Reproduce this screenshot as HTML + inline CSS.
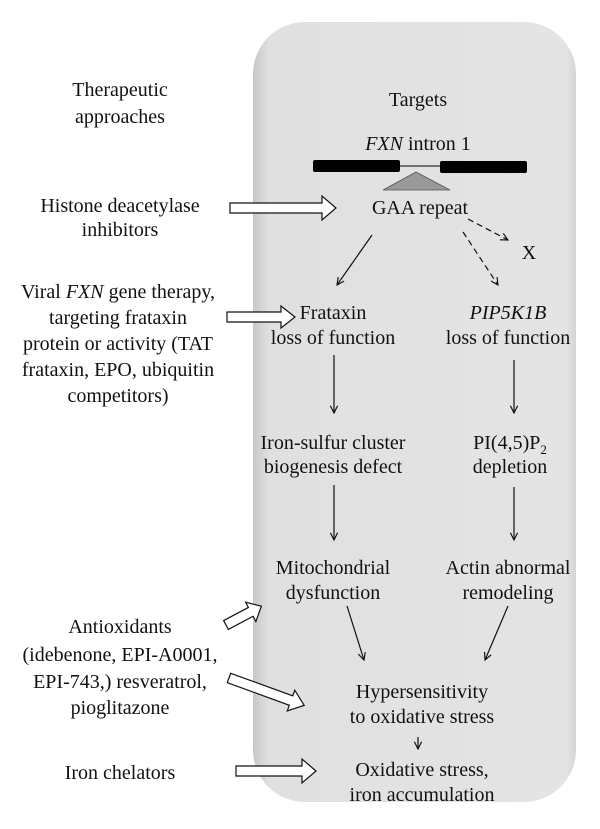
<!DOCTYPE html>
<html><head><meta charset="utf-8"><style>
html,body{margin:0;padding:0;background:#fff;}
svg{display:block;}
text{font-family:"Liberation Serif",serif;font-size:20px;fill:#111;}
</style></head><body>
<svg width="600" height="829" viewBox="0 0 600 829" xmlns="http://www.w3.org/2000/svg">
<defs>
<linearGradient id="g" x1="0" x2="1" y1="0" y2="0">
<stop offset="0" stop-color="#c8c8c8"/><stop offset="0.05" stop-color="#e0e0e0"/><stop offset="0.97" stop-color="#e4e4e4"/><stop offset="1" stop-color="#d4d4d4"/>
</linearGradient>
<marker id="a" viewBox="0 0 10 10" refX="9" refY="5" markerWidth="9" markerHeight="9" orient="auto" markerUnits="userSpaceOnUse">
<path d="M1,1 L9,5 L1,9" fill="none" stroke="#111" stroke-width="1.3"/></marker>
</defs>
<rect x="253" y="22" width="323" height="780" rx="52" fill="url(#g)"/>
<g text-anchor="middle">
<text x="120" y="96">Therapeutic</text>
<text x="120" y="123">approaches</text>
<text x="418" y="106">Targets</text>
<text x="418" y="150"><tspan font-style="italic">FXN</tspan> intron 1</text>
<text x="420" y="214">GAA repeat</text>
<text x="529" y="259">X</text>
<text x="120" y="212">Histone deacetylase</text>
<text x="120" y="236">inhibitors</text>
<text x="118" y="298">Viral <tspan font-style="italic">FXN</tspan> gene therapy,</text>
<text x="118" y="324">targeting frataxin</text>
<text x="118" y="350">protein or activity (TAT</text>
<text x="118" y="376">frataxin, EPO, ubiquitin</text>
<text x="118" y="402">competitors)</text>
<text x="333" y="319">Frataxin</text>
<text x="333" y="344">loss of function</text>
<text x="508" y="319" font-style="italic">PIP5K1B</text>
<text x="508" y="344">loss of function</text>
<text x="333" y="449">Iron-sulfur cluster</text>
<text x="333" y="473">biogenesis defect</text>
<text x="510" y="449">PI(4,5)P<tspan font-size="13" dy="5">2</tspan></text>
<text x="510" y="473">depletion</text>
<text x="333" y="574">Mitochondrial</text>
<text x="333" y="599">dysfunction</text>
<text x="508" y="574">Actin abnormal</text>
<text x="508" y="599">remodeling</text>
<text x="120" y="633">Antioxidants</text>
<text x="120" y="661">(idebenone, EPI-A0001,</text>
<text x="120" y="688">EPI-743,) resveratrol,</text>
<text x="120" y="714">pioglitazone</text>
<text x="120" y="779">Iron chelators</text>
<text x="422" y="698">Hypersensitivity</text>
<text x="422" y="723">to oxidative stress</text>
<text x="422" y="776">Oxidative stress,</text>
<text x="422" y="801">iron accumulation</text>
</g>
<rect x="313" y="160" width="87" height="12" rx="2" fill="#000"/>
<rect x="440" y="161" width="87" height="12" rx="2" fill="#000"/>
<line x1="400" y1="166" x2="440" y2="166" stroke="#000" stroke-width="1"/>
<polygon points="416,172 383,190 450,190" fill="#999" stroke="#555" stroke-width="0.8"/>
<g stroke="#111" stroke-width="1.2" fill="none" marker-end="url(#a)">
<line x1="372" y1="235" x2="337" y2="285"/>
<line x1="468" y1="219" x2="508" y2="240" stroke-dasharray="6,4"/>
<line x1="463" y1="232" x2="498" y2="285" stroke-dasharray="6,4"/>
<line x1="334" y1="355" x2="334" y2="413"/>
<line x1="514" y1="360" x2="514" y2="413"/>
<line x1="334" y1="485" x2="334" y2="540"/>
<line x1="514" y1="487" x2="514" y2="540"/>
<line x1="347" y1="606" x2="364" y2="660"/>
<line x1="508" y1="606" x2="485" y2="660"/>
<line x1="418" y1="737" x2="418" y2="749"/>
</g>
<g fill="#fff" stroke="#111" stroke-width="1.2">
<polygon points="230,203 322,203 322,196 336,208 322,220 322,213 230,213"/>
<polygon points="227,312 281,312 281,306 295,317 281,328 281,322 227,322"/>
<polygon points="0,-5 28,-5 28,-11 40,0 28,11 28,5 0,5" transform="translate(226,625) rotate(-28)"/>
<polygon points="0,-5 66,-5 66,-11 80,0 66,11 66,5 0,5" transform="translate(229,678) rotate(20)"/>
<polygon points="236,766 302,766 302,759 316,771 302,783 302,776 236,776"/>
</g>
</svg>
</body></html>
